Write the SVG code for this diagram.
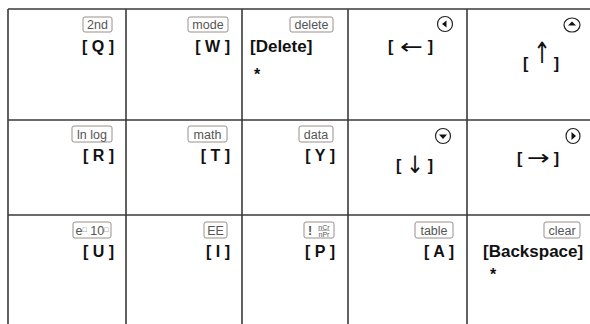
<svg xmlns="http://www.w3.org/2000/svg" width="590" height="324" viewBox="0 0 590 324">
<defs>
<style>
.grid{stroke:#3a3a3a;stroke-width:1.6;fill:none}
.kb{fill:#fff;stroke:#9a8f8a;stroke-width:1;}
.kt{font-family:"Liberation Sans",Arial,sans-serif;font-size:12.5px;fill:#555;text-anchor:middle}
.kts{font-family:"Liberation Sans",Arial,sans-serif;font-size:7px;fill:#555;text-anchor:middle}
.lb{font-family:"Liberation Sans",Arial,sans-serif;font-size:16px;font-weight:bold;fill:#111}
.lw{font-family:"Liberation Sans",Arial,sans-serif;font-size:17px;font-weight:bold;fill:#111}
.ar{font-family:"DejaVu Sans",sans-serif;font-size:21px;font-weight:normal;fill:#111;text-anchor:middle}
.ic{fill:#fff;stroke:#222;stroke-width:1.2}
.tri{fill:#111}
</style>
</defs>
<rect width="590" height="324" fill="#fff"/>
<g id="connectors" class="grid">
<line x1="8" y1="9" x2="590" y2="9"/>
<line x1="8" y1="120" x2="590" y2="120"/>
<line x1="8" y1="215" x2="590" y2="215"/>
<line x1="8" y1="9" x2="8" y2="324"/>
<line x1="126" y1="9" x2="126" y2="324"/>
<line x1="242" y1="9" x2="242" y2="324"/>
<line x1="348" y1="9" x2="348" y2="324"/>
<line x1="467" y1="9" x2="467" y2="324"/>
</g>
<g id="cell-q">
<rect class="kb" x="83" y="17" width="29" height="15" rx="2"/>
<text class="kt" x="97.5" y="29">2nd</text>
<text class="lb" x="114" y="52" text-anchor="end">[ Q ]</text>
</g>
<g id="cell-w">
<rect class="kb" x="188" y="17" width="40" height="15" rx="2"/>
<text class="kt" x="208" y="29">mode</text>
<text class="lb" x="230" y="52" text-anchor="end">[ W ]</text>
</g>
<g id="cell-delete">
<rect class="kb" x="290" y="17" width="43" height="15" rx="2"/>
<text class="kt" x="311.5" y="29">delete</text>
<text class="lw" x="250" y="52">[Delete]</text>
<text class="lb" x="254" y="80">*</text>
</g>
<g id="cell-left">
<circle class="ic" cx="445" cy="24" r="7.5"/>
<polygon class="tri" points="442,24 446.5,20.5 446.5,27.5"/>
<text class="lb" x="388" y="52">[</text>
<text class="ar" transform="translate(411.5,54) scale(1.3,1)">←</text>
<text class="lb" x="433" y="52" text-anchor="end">]</text>
</g>
<g id="cell-up">
<ellipse class="ic" cx="572" cy="25" rx="8" ry="7"/>
<polygon class="tri" points="572,21.5 576,25.5 568,25.5"/>
<text class="lb" x="523" y="69">[</text>
<text class="ar" transform="translate(542,63) scale(1,1.4)">↑</text>
<text class="lb" x="559" y="69" text-anchor="end">]</text>
</g>
<g id="cell-r">
<rect class="kb" x="72" y="126" width="40" height="16" rx="2"/>
<text class="kt" x="92" y="138.5">ln log</text>
<text class="lb" x="114" y="161" text-anchor="end">[ R ]</text>
</g>
<g id="cell-t">
<rect class="kb" x="188" y="126" width="39" height="16" rx="2"/>
<text class="kt" x="207.5" y="138.5">math</text>
<text class="lb" x="230" y="161" text-anchor="end">[ T ]</text>
</g>
<g id="cell-y">
<rect class="kb" x="299" y="126" width="34" height="16" rx="2"/>
<text class="kt" x="316" y="138.5">data</text>
<text class="lb" x="335" y="161" text-anchor="end">[ Y ]</text>
</g>
<g id="cell-down">
<circle class="ic" cx="443" cy="136" r="7.5"/>
<polygon class="tri" points="443,139 439,134.5 447,134.5"/>
<text class="lb" x="396" y="171">[</text>
<text class="ar" transform="translate(415,173) scale(1,1.15)">↓</text>
<text class="lb" x="433" y="171" text-anchor="end">]</text>
</g>
<g id="cell-right">
<ellipse class="ic" cx="573" cy="136" rx="7" ry="7.5"/>
<polygon class="tri" points="576,136 571.5,132 571.5,140"/>
<text class="lb" x="517" y="164">[</text>
<text class="ar" transform="translate(538.5,165) scale(1.3,1)">→</text>
<text class="lb" x="559" y="164" text-anchor="end">]</text>
</g>
<g id="cell-u">
<rect class="kb" x="73" y="222" width="38" height="16" rx="2"/>
<text class="kt" x="92" y="234.5" font-size="11">e<tspan font-size="7" dy="-3">□</tspan><tspan dy="3"> 10</tspan><tspan font-size="7" dy="-3">□</tspan></text>
<text class="lb" x="114" y="256.5" text-anchor="end">[ U ]</text>
</g>
<g id="cell-i">
<rect class="kb" x="204" y="222" width="23" height="16" rx="2"/>
<text class="kt" x="215.5" y="234.5">EE</text>
<text class="lb" x="230" y="256.5" text-anchor="end">[ I ]</text>
</g>
<g id="cell-p">
<rect class="kb" x="304" y="222" width="30" height="16" rx="2"/>
<text class="kt" x="310" y="235" font-weight="bold">!</text>
<text class="kts" x="324" y="229.5">nCr</text>
<text class="kts" x="324" y="236.5">nPr</text>
<line x1="318" y1="230.5" x2="330" y2="230.5" stroke="#777" stroke-width="0.5"/>
<text class="lb" x="335" y="256.5" text-anchor="end">[ P ]</text>
</g>
<g id="cell-a">
<rect class="kb" x="415" y="222" width="38" height="16" rx="2"/>
<text class="kt" x="434" y="234.5">table</text>
<text class="lb" x="454" y="256.5" text-anchor="end">[ A ]</text>
</g>
<g id="cell-backspace">
<rect class="kb" x="544" y="222" width="36" height="16" rx="2"/>
<text class="kt" x="562" y="234.5">clear</text>
<text class="lw" x="483" y="256.5">[Backspace]</text>
<text class="lb" x="490" y="280">*</text>
</g>
</svg>
